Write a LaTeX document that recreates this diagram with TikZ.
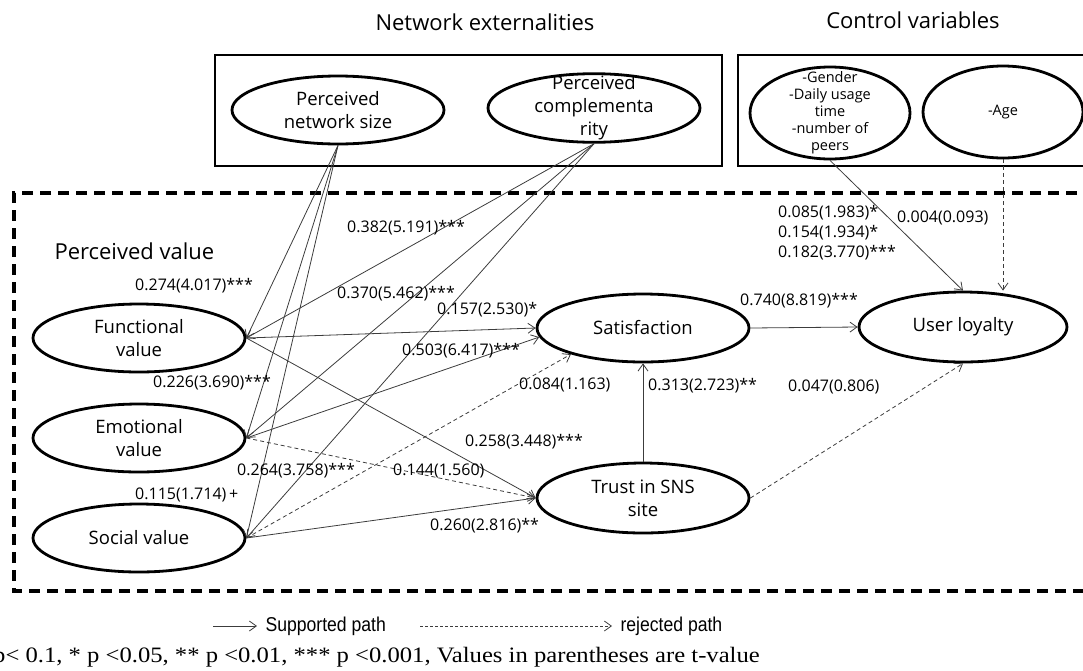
\documentclass[tikz,border=0pt]{standalone}
\usepackage{fontspec}
\setmainfont{Open Sans}
\newfontfamily\leyendafont[FakeStretch=0.88]{Liberation Sans}
\newfontfamily\notafont[FakeStretch=1.12]{Liberation Serif}
\usepackage{tikz}
\usetikzlibrary{positioning,arrows.meta,shapes.geometric}
\definecolor{linea}{RGB}{60,60,60}
\tikzset{constructo/.style={draw,ellipse,line width=2.8pt,minimum width=212pt,minimum height=68pt,inner sep=0pt,align=center,font=\fontsize{18.5}{23}\selectfont}}
\tikzset{control/.style={constructo,minimum width=160pt,minimum height=92pt,font=\fontsize{14.5}{17}\selectfont}}
\tikzset{apoyada/.style={draw=linea,line width=0.8pt,-{Straight Barb[length=7pt,width=10pt]}}}
\tikzset{rechazada/.style={apoyada,dash pattern=on 4pt off 3pt}}
\tikzset{coef/.style={anchor=west,inner sep=0pt,font=\fontsize{16}{19}\selectfont}}
\tikzset{titulo/.style={font=\fontsize{22}{26}\selectfont}}

\begin{document}
\begin{tikzpicture}[x=1pt,y=-1pt]
\useasboundingbox (0,0) rectangle (1083,670);

% marcos
\node[titulo] (tred) at (485,22) {Network externalities};
\node[titulo] (tctrl) at (913,20) {Control variables};
\draw[line width=2.8pt] (215,55) rectangle (722,166);
\draw[line width=2.8pt] (738,55) rectangle (1095,166);
\draw[line width=3.2pt,dash pattern=on 11pt off 7pt] (1095,193) -- (14,193) -- (14,591) -- (1095,591);
\node[titulo,anchor=west] (tval) at (51,251) {Perceived value};

% constructos
\node[constructo] (tam) at (338,110) {Perceived\\network size};
\node[constructo,inner ysep=-8pt] (comp) at (594,108) {Perceived\\complementa\\rity};
\node[control,inner ysep=-12pt] (ctrl) at (830,113) {-Gender\\-Daily usage\\time\\-number of\\peers};
\node[control] (edad) at (1003,112) {-Age};
\node[constructo] (func) at (139,338) {Functional\\value};
\node[constructo] (emo) at (139,438) {Emotional\\value};
\node[constructo] (soc) at (139,538) {Social value};
\node[constructo] (sat) at (643,328) {Satisfaction};
\node[constructo,minimum height=70pt] (conf) at (643,498) {Trust in SNS\\site};
\node[constructo,minimum width=208pt,minimum height=70pt] (leal) at (963,327) {User loyalty};

% caminos
\draw[apoyada] (tam.south) -- (func.east);
\draw[apoyada] (tam.south) -- (emo.east);
\draw[apoyada] (tam.south) -- (soc.east);
\draw[apoyada] (comp.south) -- (func.east);
\draw[apoyada] (comp.south) -- (emo.east);
\draw[apoyada] (comp.south) -- (soc.east);
\draw[apoyada] (func.east) -- (sat.west);
\draw[apoyada] (func.east) -- (conf.west);
\draw[apoyada] (emo.east) -- (sat.185);
\draw[rechazada] (emo.east) -- (conf.west);
\draw[rechazada] (soc.east) -- (sat.200);
\draw[apoyada] (soc.east) -- (conf.west);
\draw[apoyada] (conf.north) -- (sat.south);
\draw[apoyada] (sat.east) -- (leal.west);
\draw[rechazada] (conf.east) -- (leal.south);
\draw[apoyada] (ctrl.south) -- (leal.north);
\draw[rechazada] (edad.south) -- (leal.north -| edad.south);

% coeficientes
\node[coef] (c1) at (347,228) {0.382(5.191)***};
\node[coef] (c2) at (135,286) {0.274(4.017)***};
\node[coef] (c3) at (337,294) {0.370(5.462)***};
\node[coef] (c4) at (437,310) {0.157(2.530)*};
\node[coef] (c5) at (402,351) {0.503(6.417)***};
\node[coef] (c6) at (153,383) {0.226(3.690)***};
\node[coef] (c7) at (519,385) {0.084(1.163)};
\node[coef] (c8) at (648,386) {0.313(2.723)**};
\node[coef] (c9) at (788,387) {0.047(0.806)};
\node[coef] (c10) at (465,442) {0.258(3.448)***};
\node[coef] (c11) at (237,471) {0.264(3.758)***};
\node[coef] (c12) at (393,471) {0.144(1.560)};
\node[coef] (c13) at (135,495) {0.115(1.714)\,+};
\node[coef] (c14) at (430,526) {0.260(2.816)**};
\node[coef] (c15) at (740,301) {0.740(8.819)***};
\node[coef] (c16) at (778,213) {0.085(1.983)*};
\node[coef] (c17) at (778,233) {0.154(1.934)*};
\node[coef] (c18) at (778,253) {0.182(3.770)***};
\node[coef] (c19) at (897,218) {0.004(0.093)};

% leyenda
\coordinate (s1) at (213,626);
\coordinate (s2) at (257,626);
\draw[apoyada] (s1) -- (s2);
\node[anchor=west,font=\leyendafont\fontsize{20}{23}\selectfont] (tsop) at (262,626) {Supported path};
\coordinate (r1) at (420,626);
\coordinate (r2) at (612,626);
\draw[apoyada,dash pattern=on 3pt off 2pt] (r1) -- (r2);
\node[anchor=west,font=\leyendafont\fontsize{20}{23}\selectfont] (trech) at (617,626) {rejected path};
\node[anchor=west,inner sep=0pt,font=\notafont\fontsize{22}{25}\selectfont] (nota) at (-7,657) {p< 0.1, * p <0.05, ** p <0.01, *** p <0.001, Values in parentheses are t-value};
\end{tikzpicture}
\end{document}
